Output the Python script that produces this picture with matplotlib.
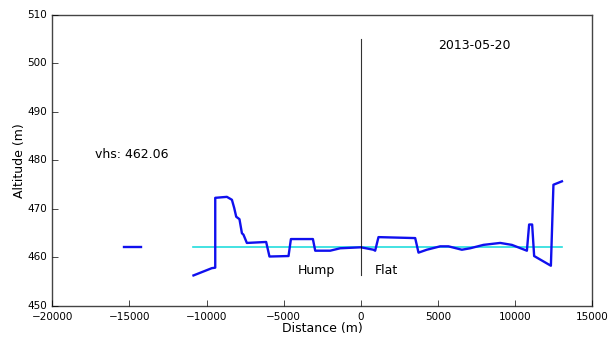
import matplotlib
matplotlib.use('Agg')
import matplotlib.pyplot as plt

# along-track profile (m, m)
dist = [-10850, -9660, -9440, -9440, -8685, -8360, -8210, -8080, -7870, -7710,
        -7610, -7390, -6140, -5925, -4690, -4535, -3110, -2960, -1990, -1340,
        0, 815, 925, 1140, 3520, 3735, 4275, 5140, 5675, 6545, 7085, 7945,
        9030, 9785, 10760, 10905, 11100, 11230, 12315, 12480, 13030]
alt = [456.3, 457.8, 457.9, 472.3, 472.5, 471.9, 470.2, 468.4, 467.9, 465.0,
       464.7, 463.0, 463.2, 460.2, 460.3, 463.8, 463.8, 461.4, 461.4, 461.9,
       462.1, 461.6, 461.4, 464.2, 464.0, 461.0, 461.6, 462.3, 462.3, 461.6,
       461.9, 462.6, 463.0, 462.6, 461.4, 466.8, 466.8, 460.3, 458.3, 475.0,
       475.7]
# short isolated piece further out
dist2 = [-15340, -14240]
alt2 = [462.2, 462.2]

vhs = 462.06
date = '2013-05-20'

plt.style.use('classic')
fig = plt.figure(figsize=(6.09, 3.38), dpi=100)
fig.patch.set_facecolor('white')
ax = fig.add_axes([0.0859, 0.0947, 0.8867, 0.861])

ax.plot([dist[0], dist[-1]], [vhs, vhs], '-', color='#22dddd', lw=1.2)
ax.plot(dist, alt, '-', color='#1010ee', lw=1.7)
ax.plot(dist2, alt2, '-', color='#1010ee', lw=1.7)
ax.plot([0, 0], [456.4, 505], 'k-', lw=0.8, alpha=0.8)

ax.text(5010, 503, date, fontsize=9)
ax.text(-17220, 480.5, 'vhs: %.2f' % vhs, fontsize=9)
ax.text(-4060, 456.6, 'Hump', fontsize=9)
ax.text(930, 456.6, 'Flat', fontsize=9)

ax.set_xlim(-20000, 15000)
ax.set_ylim(450, 510)
ax.set_xlabel('Distance (m)', fontsize=9, labelpad=0)
ax.set_ylabel('Altitude (m)', fontsize=9, labelpad=1)
ax.tick_params(labelsize=7.5, length=4)
ax.xaxis.set_ticks_position('bottom')
ax.yaxis.set_ticks_position('left')
for s in ax.spines.values():
    s.set_color('#444444')

fig.savefig('out.png', dpi=100, facecolor='white')
